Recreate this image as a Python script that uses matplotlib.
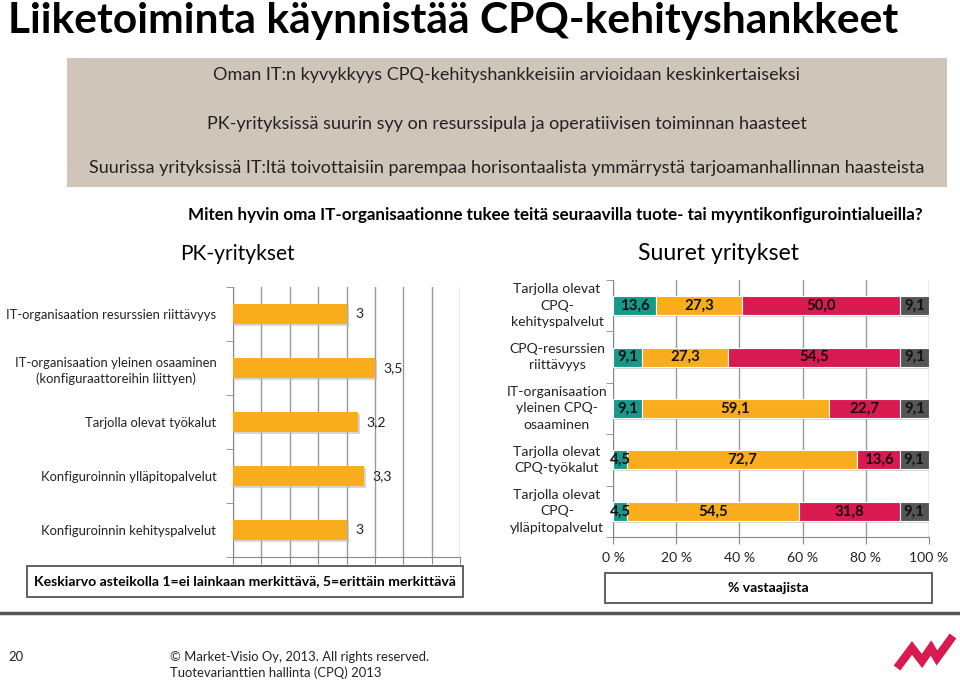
import matplotlib
matplotlib.use("Agg")
import matplotlib.pyplot as plt
import matplotlib.patheffects as pe
from matplotlib.patches import Rectangle
from matplotlib.lines import Line2D
import numpy as np

plt.rcParams['font.family'] = ['Lato', 'DejaVu Sans']

# ---------------- data ----------------
title = "Liiketoiminta käynnistää CPQ-kehityshankkeet"
box_lines = [
    "Oman IT:n kyvykkyys CPQ-kehityshankkeisiin arvioidaan keskinkertaiseksi",
    "PK-yrityksissä suurin syy on resurssipula ja operatiivisen toiminnan haasteet",
    "Suurissa yrityksissä IT:ltä toivottaisiin parempaa horisontaalista ymmärrystä tarjoamanhallinnan haasteista",
]
question = "Miten hyvin oma IT-organisaationne tukee teitä seuraavilla tuote- tai myyntikonfigurointialueilla?"

pk_categories = [
    "IT-organisaation resurssien riittävyys",
    "IT-organisaation yleinen osaaminen\n(konfiguraattoreihin liittyen)",
    "Tarjolla olevat työkalut",
    "Konfiguroinnin ylläpitopalvelut",
    "Konfiguroinnin kehityspalvelut",
]
pk_values = [3.0, 3.5, 3.2, 3.3, 3.0]
pk_labels = ["3", "3,5", "3,2", "3,3", "3"]

large_categories = [
    "Tarjolla olevat\nCPQ-\nkehityspalvelut",
    "CPQ-resurssien\nriittävyys",
    "IT-organisaation\nyleinen CPQ-\nosaaminen",
    "Tarjolla olevat\nCPQ-työkalut",
    "Tarjolla olevat\nCPQ-\nylläpitopalvelut",
]
seg1 = [13.6, 9.1, 9.1, 4.5, 4.5]
seg2 = [27.3, 27.3, 59.1, 72.7, 54.5]
seg3 = [50.0, 54.5, 22.7, 13.6, 31.8]
seg4 = [9.1, 9.1, 9.1, 9.1, 9.1]
large_ticks = [0, 20, 40, 60, 80, 100]
large_tick_labels = ["0 %", "20 %", "40 %", "60 %", "80 %", "100 %"]

seg_colors = ["#17988a", "#f9ad1c", "#d91a50", "#555555"]
ORANGE = "#f9ad1c"

W, H = 960, 680
fig = plt.figure(figsize=(W / 100, H / 100), dpi=100)
fig.patch.set_facecolor("white")


def fx(x):
    return x / W


def fy(y):
    return 1 - y / H


def ftext(x, y, s, **kw):
    return fig.text(fx(x), fy(y), s, **kw)


def px2pt(p):
    return p * 0.72


# ---------------- header ----------------
ftext(8, 21, title, fontsize=px2pt(42.5), fontweight='bold',
      ha='left', va='center', color='black')

fig.add_artist(Rectangle((fx(67), fy(187)), fx(947) - fx(67), fy(58) - fy(187),
                         transform=fig.transFigure, facecolor="#cfc6b9",
                         edgecolor='none', zorder=0))
for yy, s in zip([75, 124, 168], box_lines):
    ftext(507, yy, s, fontsize=px2pt(18), ha='center',
          va='center', color='#222222')

ftext(555, 215, question, fontsize=px2pt(17), fontweight='bold',
      ha='center', va='center', color='black')
ftext(237, 254, "PK-yritykset", fontsize=px2pt(21), ha='center', va='center')
ftext(718, 253, "Suuret yritykset", fontsize=px2pt(23), ha='center', va='center')

# ---------------- left chart ----------------
axL = fig.add_axes([fx(233), fy(557), fx(460) - fx(233), fy(287) - fy(557)])
yL = np.arange(len(pk_categories))
shadow = [pe.SimplePatchShadow(offset=(1.5, -1.5), shadow_rgbFace='#bbbbbb', alpha=0.6), pe.Normal()]
barsL = axL.barh(yL, np.array(pk_values) - 1, left=1, height=0.36, color=ORANGE,
                 zorder=3)
for b in barsL:
    b.set_path_effects(shadow)
for yi, v, lab in zip(yL, pk_values, pk_labels):
    axL.text(v + 0.15, yi, lab, va='center', ha='left', fontsize=px2pt(14),
             color='#222222', zorder=4)
axL.set_xlim(1, 5)
axL.set_ylim(len(pk_categories) - 0.5, -0.5)
axL.set_xticks(np.arange(1, 5.01, 0.5))
axL.set_xticklabels([])
axL.xaxis.grid(True, color='#999999', linewidth=1, zorder=0)
axL.set_axisbelow(True)
axL.set_yticks(yL)
axL.set_yticklabels(pk_categories, fontsize=px2pt(13), color='#222222')
for t in axL.get_yticklabels():
    t.set_multialignment('center')
    t.set_linespacing(1.4)
axL.tick_params(axis='y', length=0, pad=12)
axL.set_yticks(np.arange(-0.5, len(pk_categories) + 0.5, 1), minor=True)
axL.tick_params(axis='y', which='minor', length=5, color='#888888', direction='out')
axL.tick_params(axis='x', length=5, color='#888888', direction='out')
for side in ['top', 'right']:
    axL.spines[side].set_visible(False)
for side in ['left', 'bottom']:
    axL.spines[side].set_color('#888888')

# ---------------- right chart ----------------
axR = fig.add_axes([fx(613), fy(537), fx(929) - fx(613), fy(280) - fy(537)])
yR = np.arange(len(large_categories))
left = np.zeros(len(yR))
for vals, col in zip([seg1, seg2, seg3, seg4], seg_colors):
    vals = np.array(vals)
    bars = axR.barh(yR, vals, left=left, height=0.37, color=col,
                    edgecolor='white', linewidth=0.8, zorder=3)
    for b in bars:
        b.set_path_effects(shadow)
    for yi, l, v in zip(yR, left, vals):
        axR.text(l + v / 2, yi, f"{v:.1f}".replace('.', ','), ha='center',
                 va='center', fontsize=px2pt(15), fontweight='bold',
                 color='#111111', zorder=5)
    left = left + vals
axR.set_xlim(0, 100)
axR.set_ylim(len(large_categories) - 0.5, -0.5)
axR.set_xticks(large_ticks)
axR.set_xticklabels(large_tick_labels, fontsize=px2pt(14), color='#222222')
axR.xaxis.grid(True, color='#999999', linewidth=1, zorder=0)
axR.set_axisbelow(True)
axR.set_yticks([])
axR.set_yticks(np.arange(-0.5, len(large_categories) + 0.5, 1), minor=True)
axR.tick_params(axis='y', which='minor', length=5, color='#888888', direction='out')
axR.tick_params(axis='x', length=5, color='#888888', direction='out', pad=6)
for yi, cat in zip(yR, large_categories):
    axR.text(-(613 - 557) / (929 - 613), yi, cat, transform=axR.get_yaxis_transform(),
             ha='center', va='center', multialignment='center',
             fontsize=px2pt(14), color='#222222', linespacing=1.45)
for side in ['top', 'right']:
    axR.spines[side].set_visible(False)
for side in ['left', 'bottom']:
    axR.spines[side].set_color('#888888')

# ---------------- note boxes ----------------
fig.add_artist(Rectangle((fx(27), fy(597)), fx(463) - fx(27), fy(566) - fy(597),
                         transform=fig.transFigure, facecolor='white',
                         edgecolor='#555555', linewidth=1.3))
ftext(245, 581.5, "Keskiarvo asteikolla 1=ei lainkaan merkittävä, 5=erittäin merkittävä",
      fontsize=px2pt(14), fontweight='bold', ha='center', va='center')
fig.add_artist(Rectangle((fx(605), fy(603)), fx(932) - fx(605), fy(573) - fy(603),
                         transform=fig.transFigure, facecolor='white',
                         edgecolor='#555555', linewidth=1.3))
ftext(768, 588, "% vastaajista", fontsize=px2pt(14), fontweight='bold',
      ha='center', va='center')

# ---------------- footer ----------------
fig.add_artist(Line2D([0, 1], [fy(613), fy(613)], transform=fig.transFigure,
                      color='#555555', linewidth=2.5))
ftext(8, 657, "20", fontsize=px2pt(13), ha='left', va='center', color='#222222')
ftext(170, 657, "© Market-Visio Oy, 2013. All rights reserved.", fontsize=px2pt(13),
      ha='left', va='center', color='#222222')
ftext(170, 673, "Tuotevarianttien hallinta (CPQ) 2013", fontsize=px2pt(13),
      ha='left', va='center', color='#222222')
lx = [897, 912, 922, 931, 937, 953]
ly = [668, 648, 661, 648, 658, 636]
fig.add_artist(Line2D([fx(v) for v in lx], [fy(v) for v in ly], transform=fig.transFigure,
                      color='#d91a50', linewidth=6, solid_joinstyle='miter',
                      solid_capstyle='butt'))

fig.savefig("out.png", dpi=100)
